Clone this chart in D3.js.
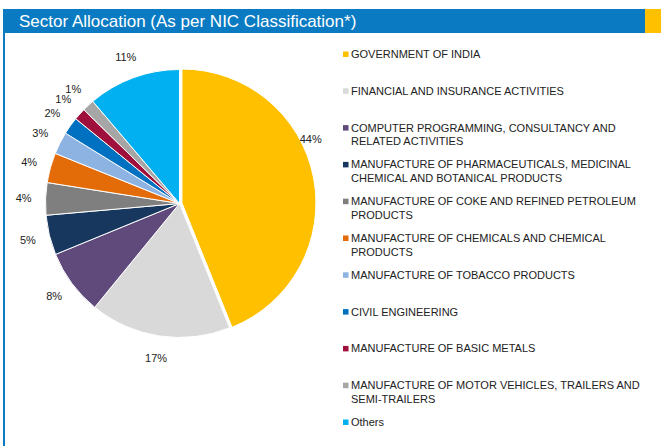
<!DOCTYPE html>
<html>
<head>
<meta charset="utf-8">
<script src="https://cdn.jsdelivr.net/npm/d3@7"></script>
<style>
  body { margin: 0; background: #fff; }
  svg { display: block; font-family: "Liberation Sans", Arial, sans-serif; }
</style>
</head>
<body>
<script>
// chart data
const categories = [
  'GOVERNMENT OF INDIA',
  'FINANCIAL AND INSURANCE ACTIVITIES',
  'COMPUTER PROGRAMMING, CONSULTANCY AND RELATED ACTIVITIES',
  'MANUFACTURE OF PHARMACEUTICALS, MEDICINAL CHEMICAL AND BOTANICAL PRODUCTS',
  'MANUFACTURE OF COKE AND REFINED PETROLEUM PRODUCTS',
  'MANUFACTURE OF CHEMICALS AND CHEMICAL PRODUCTS',
  'MANUFACTURE OF TOBACCO PRODUCTS',
  'CIVIL ENGINEERING',
  'MANUFACTURE OF BASIC METALS',
  'MANUFACTURE OF MOTOR VEHICLES, TRAILERS AND SEMI-TRAILERS',
  'Others'
];
const shares = [43.9, 17.0, 7.9, 4.8, 3.9, 3.6, 2.7, 2.1, 1.45, 1.45, 11.2];
const colors = ['#ffc000', '#d9d9d9', '#604a7b', '#17375e', '#7f7f7f', '#e36c09',
                '#8db3e2', '#0070c0', '#a0103d', '#a6a6a6', '#00b0f0'];
const title = 'Sector Allocation (As per NIC Classification*)';

const width = 661, height = 446;
const center = {x: 179.5, y: 203.5};
const radius = 134;
const explode = 2.5;      // first slice is pulled out
const labelRadius = 156;
const bigLabelAngle = 64; // degrees, the 44% label sits above its bisector

const svg = d3.select('body').append('svg')
  .attr('width', width)
  .attr('height', height);

// header band + frame
svg.append('rect').attr('x', 3).attr('y', 9).attr('width', 642).attr('height', 24).attr('fill', '#0a7bc2');
svg.append('rect').attr('x', 645).attr('y', 9).attr('width', 16).attr('height', 24).attr('fill', '#ffc000');
svg.append('rect').attr('x', 3).attr('y', 33).attr('width', 2).attr('height', height - 33).attr('fill', '#0a7bc2');

svg.append('text')
  .attr('x', 19)
  .attr('y', 27)
  .attr('fill', '#fff')
  .attr('font-size', 17)
  .text(title);

// pie
const pie = d3.pie().sort(null).value(d => d);
const arcs = pie(shares);
const arc = d3.arc().innerRadius(0).outerRadius(radius);
const labelArc = d3.arc().innerRadius(labelRadius).outerRadius(labelRadius);

const g = svg.append('g').attr('transform', `translate(${center.x},${center.y})`);

g.selectAll('path')
  .data(arcs)
  .enter()
  .append('path')
  .attr('d', arc)
  .attr('fill', (d, i) => colors[i])
  .attr('stroke', '#fff')
  .attr('stroke-width', 1)
  .attr('transform', (d, i) => {
    if (i !== 0) return null;
    const mid = (d.startAngle + d.endAngle) / 2;
    return `translate(${explode * Math.sin(mid)},${-explode * Math.cos(mid)})`;
  });

g.selectAll('text.pct')
  .data(arcs)
  .enter()
  .append('text')
  .attr('class', 'pct')
  .attr('transform', (d, i) => {
    let p = labelArc.centroid(d);
    if (i === 0) {
      const a = bigLabelAngle * Math.PI / 180;
      p = [146 * Math.sin(a), -146 * Math.cos(a)];
    }
    return `translate(${p[0]},${p[1] + 4})`;
  })
  .attr('text-anchor', 'middle')
  .attr('font-size', 11)
  .attr('fill', '#222')
  .text(d => d3.format('.0f')(d.data) + '%');

// legend
const legend = svg.append('g').attr('transform', 'translate(343,54)');
const rowGap = 36.8, lineGap = 13.5, wrapWidth = 302;

const items = legend.selectAll('g')
  .data(categories)
  .enter()
  .append('g')
  .attr('transform', (d, i) => `translate(0,${i * rowGap})`);

items.append('rect')
  .attr('x', 0)
  .attr('y', -2.5)
  .attr('width', 5.5)
  .attr('height', 5.5)
  .attr('fill', (d, i) => colors[i]);

items.append('text')
  .attr('x', 8)
  .attr('y', 4)
  .attr('font-size', 11)
  .attr('fill', '#222')
  .each(function(d) {
    const text = d3.select(this);
    const words = d.split(' ');
    let line = [];
    let lineNo = 0;
    let tspan = text.append('tspan').attr('x', 8).attr('dy', 0);
    words.forEach(w => {
      line.push(w);
      tspan.text(line.join(' '));
      if (tspan.node().getComputedTextLength() > wrapWidth && line.length > 1) {
        line.pop();
        tspan.text(line.join(' '));
        line = [w];
        lineNo++;
        tspan = text.append('tspan').attr('x', 8).attr('dy', lineGap).text(w);
      }
    });
  });
</script>
</body>
</html>
